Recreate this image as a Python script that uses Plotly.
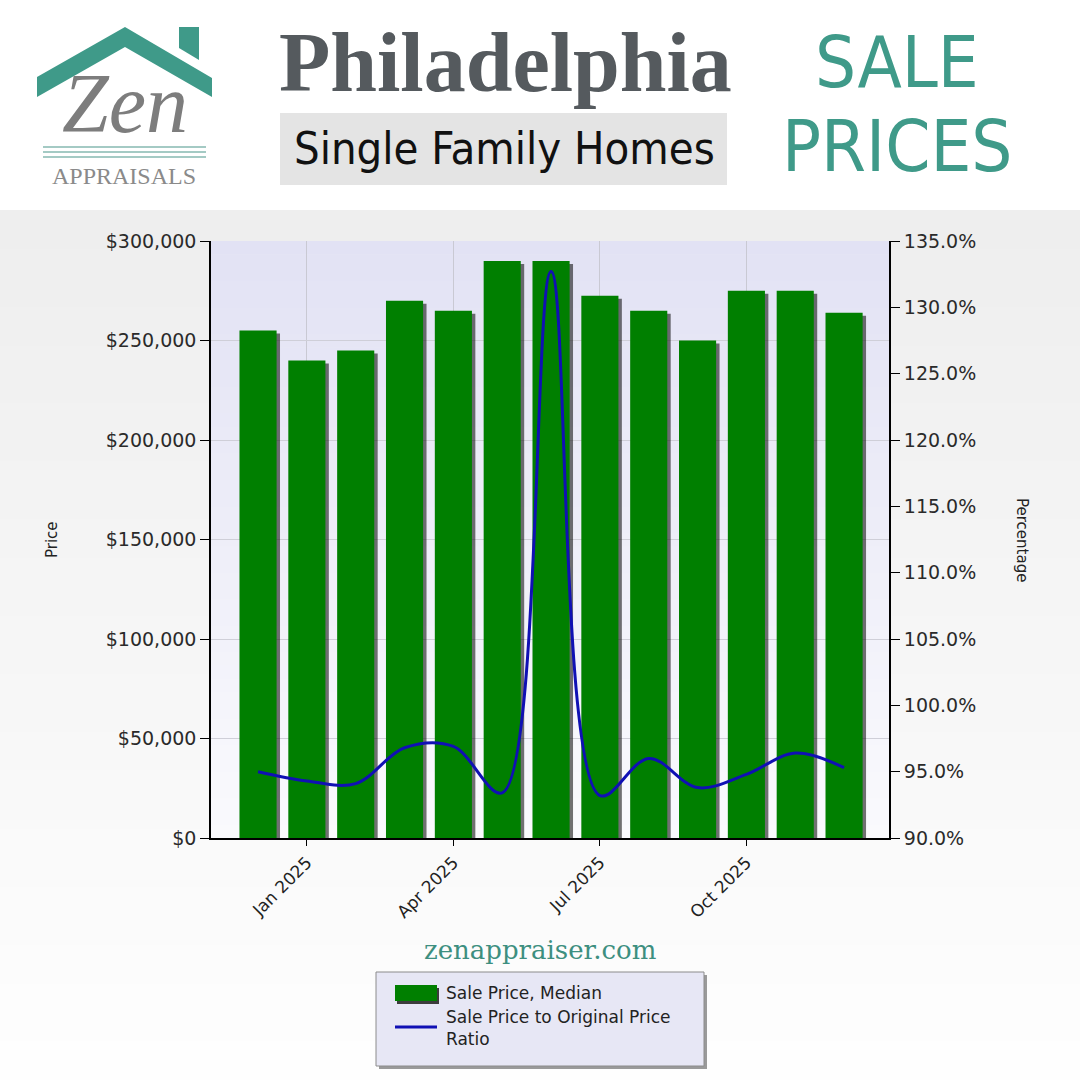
import plotly.graph_objects as go

# ---- data -------------------------------------------------------------
months = ["Dec 2024", "Jan 2025", "Feb 2025", "Mar 2025", "Apr 2025", "May 2025",
          "Jun 2025", "Jul 2025", "Aug 2025", "Sep 2025", "Oct 2025", "Nov 2025", "Dec 2025"]
median_price = [255000, 240000, 245000, 270000, 265000, 290000, 290000,
                272500, 265000, 250000, 275000, 275000, 264000]
price_ratio = [95.0, 94.3, 94.1, 96.8, 96.9, 93.4, 132.7,
               93.2, 96.0, 93.8, 94.8, 96.4, 95.3]
x_tick_labels = ["Jan 2025", "Apr 2025", "Jul 2025", "Oct 2025"]
price_ticks = [0, 50000, 100000, 150000, 200000, 250000, 300000]
ratio_ticks = [90, 95, 100, 105, 110, 115, 120, 125, 130, 135]

price_tick_text = ["$" + format(v, ",d") for v in price_ticks]
ratio_tick_text = ["%.1f%%" % v for v in ratio_ticks]

# ---- page geometry (pixels) --------------------------------------------
W = H = 1080
L, R, T, B = 211, 889, 241, 838


def px(x):
    return (x - L) / (R - L)


def py(y):
    return (B - y) / (B - T)


TEAL = "#3f9a89"
BAR_GREEN = "#007f00"
LINE_BLUE = "#1010b4"
AXIS_FONT = "DejaVu Sans"
NARROW = "Liberation Sans Narrow, DejaVu Sans Condensed, Arial Narrow"

fig = go.Figure()

# bar drop-shadows, then the bars themselves
fig.add_trace(go.Bar(
    x=months, y=[v - 1500 for v in median_price], width=0.76, offset=-0.38 + 0.07,
    marker=dict(color="rgba(20,20,20,0.6)", line=dict(width=0)),
    showlegend=False, hoverinfo="skip"))
fig.add_trace(go.Bar(
    x=months, y=median_price, width=0.76, offset=-0.38,
    marker=dict(color=BAR_GREEN, line=dict(width=0)),
    name="Sale Price, Median", showlegend=False))
fig.add_trace(go.Scatter(
    x=months, y=price_ratio, yaxis="y2", mode="lines",
    line=dict(color=LINE_BLUE, width=3, shape="spline", smoothing=1.0),
    name="Sale Price to Original Price Ratio", showlegend=False))

shapes = []


def vgradient(x0, x1, y0, y1, top, bottom, n=40):
    """Stack thin bands to fake a vertical colour gradient (pixel coords)."""
    for i in range(n):
        t = i / (n - 1)
        c = tuple(round(top[k] + (bottom[k] - top[k]) * t) for k in range(3))
        ya = y0 + (y1 - y0) * i / n
        yb = y0 + (y1 - y0) * (i + 1) / n + 0.6
        shapes.append(dict(type="rect", xref="paper", yref="paper", layer="below",
                           x0=px(x0), x1=px(x1), y0=py(ya), y1=py(yb),
                           fillcolor="rgb(%d,%d,%d)" % c, line=dict(width=0)))


# page background below the header, then the plotting area
vgradient(0, W, 210, H, (238, 238, 238), (254, 254, 254), 45)
vgradient(L, R, T, B, (226, 226, 244), (250, 250, 253), 45)

# ---- logo ---------------------------------------------------------------
def poly(points, color):
    path = "M " + " L ".join("%f,%f" % (px(x), py(y)) for x, y in points) + " Z"
    shapes.append(dict(type="path", xref="paper", yref="paper", path=path,
                       fillcolor=color, line=dict(width=0)))


poly([(37, 77), (125, 27), (212, 78), (212, 97), (125, 47), (37, 97)], TEAL)
poly([(179, 27), (199, 27), (199, 60), (179, 48)], TEAL)
for yy in (147, 152, 157):
    shapes.append(dict(type="line", xref="paper", yref="paper",
                       x0=px(43), x1=px(206), y0=py(yy), y1=py(yy),
                       line=dict(color="#86b9b1", width=1.5)))

# grey box behind the subtitle
shapes.append(dict(type="rect", xref="paper", yref="paper",
                   x0=px(280), x1=px(727), y0=py(113), y1=py(185),
                   fillcolor="#e4e4e4", line=dict(width=0)))

# ---- legend box --------------------------------------------------------
shapes.append(dict(type="rect", xref="paper", yref="paper",
                   x0=px(379), x1=px(707), y0=py(975), y1=py(1069),
                   fillcolor="#9a9a9a", line=dict(width=0)))
shapes.append(dict(type="rect", xref="paper", yref="paper",
                   x0=px(376), x1=px(704), y0=py(972), y1=py(1066),
                   fillcolor="#e7e7f5", line=dict(color="#8c8c8c", width=1)))
shapes.append(dict(type="rect", xref="paper", yref="paper",
                   x0=px(397), x1=px(439), y0=py(988), y1=py(1004),
                   fillcolor="#3c3c3c", line=dict(width=0)))
shapes.append(dict(type="rect", xref="paper", yref="paper",
                   x0=px(395), x1=px(437), y0=py(985), y1=py(1001),
                   fillcolor=BAR_GREEN, line=dict(width=0)))
shapes.append(dict(type="line", xref="paper", yref="paper",
                   x0=px(395), x1=px(437), y0=py(1027), y1=py(1027),
                   line=dict(color=LINE_BLUE, width=3)))

annotations = []


def text(x, y, s, size, color, family, xanchor="center", yanchor="middle", **kw):
    font = dict(size=size, color=color, family=family)
    font.update(kw.pop("font_extra", {}))
    annotations.append(dict(x=px(x), y=py(y), xref="paper", yref="paper", text=s,
                            showarrow=False, xanchor=xanchor, yanchor=yanchor,
                            font=font, **kw))


# header
text(125, 104, "Zen", 84, "#7d7d7d", "Liberation Serif", font_extra=dict(style="italic"))
text(124, 176, "APPRAISALS", 24, "#8a8a8a", "Liberation Serif")
text(505, 62, "<b>Philadelphia</b>", 84, "#555a5e", "Liberation Serif, DejaVu Serif")
text(504, 149, "Single Family Homes", 45, "#111111", NARROW)
text(897, 62, "SALE", 72, TEAL, NARROW)
text(897, 146, "PRICES", 72, TEAL, NARROW)

# axis titles
text(52, 540, "Price", 15, "#222222", AXIS_FONT, textangle=-90)
text(1022, 540, "Percentage", 15, "#222222", AXIS_FONT, textangle=90)

# footer and legend labels
text(540, 950, "zenappraiser.com", 26, "#3d8f80", "DejaVu Serif")
text(444, 993, "Sale Price, Median", 17, "#222222", AXIS_FONT, xanchor="left")
text(444, 1028, "Sale Price to Original Price<br>Ratio", 17, "#222222", AXIS_FONT,
     xanchor="left", align="left")

fig.update_layout(
    width=W, height=H, autosize=False,
    margin=dict(l=L, r=W - R, t=T, b=H - B, pad=0),
    paper_bgcolor="white", plot_bgcolor="rgba(0,0,0,0)",
    barmode="overlay",
    shapes=shapes, annotations=annotations,
    xaxis=dict(
        type="category", categoryorder="array", categoryarray=months,
        range=[-0.963, 12.92], tickmode="array", tickvals=x_tick_labels,
        ticktext=x_tick_labels, tickangle=-45,
        tickfont=dict(family=AXIS_FONT, size=17, color="#222222"),
        showgrid=True, gridcolor="#c9c9d3", gridwidth=1,
        showline=True, linecolor="black", linewidth=2,
        ticks="outside", ticklen=6, tickcolor="black", zeroline=False),
    yaxis=dict(
        range=[0, 300000], tickmode="array", tickvals=price_ticks,
        ticktext=price_tick_text,
        tickfont=dict(family=AXIS_FONT, size=19, color="#2a2a2a"),
        showgrid=True, gridcolor="#cfcfd8", gridwidth=1,
        showline=True, linecolor="black", linewidth=1.5,
        ticks="outside", ticklen=9, tickcolor="black", zeroline=False),
    yaxis2=dict(
        overlaying="y", side="right", range=[90, 135],
        tickmode="array", tickvals=ratio_ticks, ticktext=ratio_tick_text,
        tickfont=dict(family=AXIS_FONT, size=19, color="#2a2a2a"),
        showgrid=False, showline=True, linecolor="black", linewidth=2,
        ticks="outside", ticklen=9, tickcolor="black", zeroline=False),
)

fig.write_html("out.html")
